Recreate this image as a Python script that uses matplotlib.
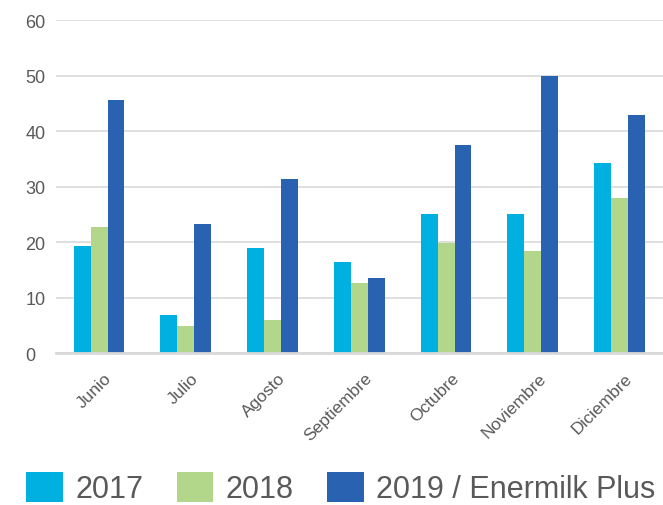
import matplotlib
matplotlib.use('Agg')
import matplotlib.pyplot as plt
import numpy as np

months = ['Junio', 'Julio', 'Agosto', 'Septiembre', 'Octubre', 'Noviembre', 'Diciembre']
v2017 = [19.3, 6.8, 18.9, 16.4, 25.0, 25.0, 34.2]
v2018 = [22.7, 4.9, 5.9, 12.6, 19.8, 18.4, 27.9]
v2019 = [45.6, 23.2, 31.4, 13.5, 37.5, 49.9, 42.9]
series_labels = ['2017', '2018', '2019 / Enermilk Plus']
colors = ['#00B0E0', '#B2D68A', '#2962B0']

plt.rcParams['font.family'] = ['Liberation Sans', 'DejaVu Sans']
text_color = '#595959'
grid_color = '#D9D9D9'

fig = plt.figure(figsize=(6.63, 5.06), dpi=100)
ax = fig.add_axes([0.084, 0.300, 0.916, 0.658])

x = np.arange(len(months))
w = 0.195
for i, (vals, lab, c) in enumerate(zip([v2017, v2018, v2019], series_labels, colors)):
    ax.bar(x + (i - 1) * w, vals, width=w, color=c, label=lab, zorder=3)

ax.set_xlim(-0.5, len(months) - 0.5)
ax.set_ylim(0, 60)
ax.set_yticks(range(0, 61, 10))
ax.yaxis.grid(True, color=grid_color, linewidth=1.2, zorder=0)
ax.set_axisbelow(True)
for s in ['top', 'right', 'left']:
    ax.spines[s].set_visible(False)
ax.spines['bottom'].set_color(grid_color)
ax.spines['bottom'].set_linewidth(2)
ax.spines['bottom'].set_zorder(4)
ax.tick_params(axis='both', length=0, colors=text_color)
ax.tick_params(axis='y', labelsize=13, pad=22)
ax.set_xticks(x + 0.06)
ax.set_xticklabels(months, rotation=45, ha='right', rotation_mode='anchor',
                   fontsize=12.5)
ax.tick_params(axis='x', pad=12)
for lbl in ax.get_yticklabels():
    lbl.set_horizontalalignment('left')

leg = fig.legend(loc='lower left', bbox_to_anchor=(0.012, -0.035), ncol=3,
                 frameon=False, fontsize=22, handlelength=1.2, handleheight=1.15,
                 handletextpad=0.4, columnspacing=1.1, borderaxespad=0.2)
for t in leg.get_texts():
    t.set_color(text_color)

fig.savefig('out.png', dpi=100)
